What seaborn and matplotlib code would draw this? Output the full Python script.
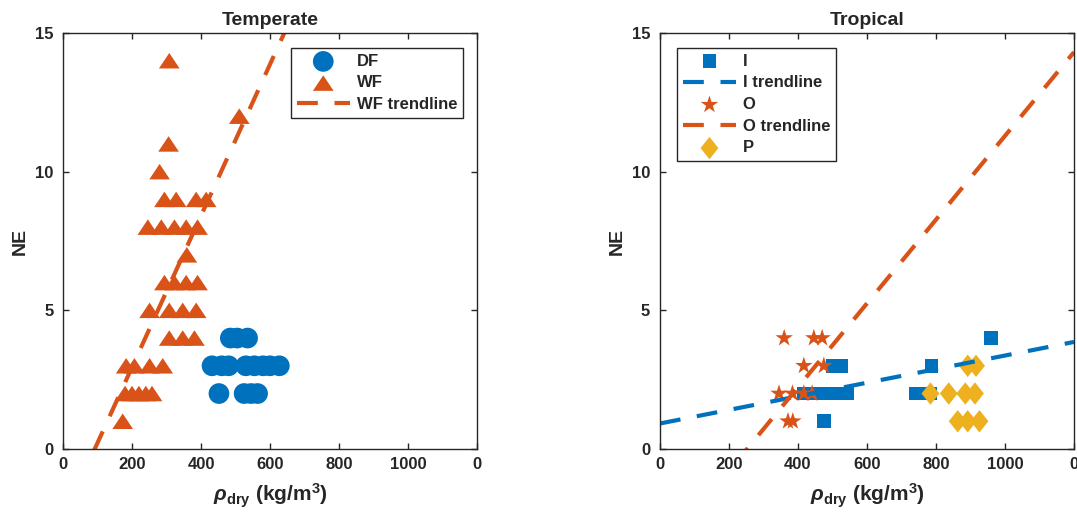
import numpy as np
import pandas as pd
import matplotlib
matplotlib.use("Agg")
import matplotlib.pyplot as plt
import seaborn as sns

# Temperate
df_x = [485, 505, 535, 432, 460, 480, 530, 555, 580, 600, 627, 452, 525, 545, 564]
df_y = [4, 4, 4, 3, 3, 3, 3, 3, 3, 3, 3, 2, 2, 2, 2]
wf_x = [308, 511, 306, 280, 294, 328, 386, 415, 246, 285, 323, 357, 390, 359,
        294, 323, 357, 390, 251, 308, 347, 386, 308, 347, 381,
        183, 207, 251, 289, 180, 200, 220, 240, 258, 173]
wf_y = [14, 12, 11, 10, 9, 9, 9, 9, 8, 8, 8, 8, 8, 7,
        6, 6, 6, 6, 5, 5, 5, 5, 4, 4, 4,
        3, 3, 3, 3, 2, 2, 2, 2, 2, 1]
wf_trend = (0.0273, -2.51)   # slope, intercept

# Tropical
i_x = [959, 500, 525, 787, 417, 440, 460, 480, 500, 520, 541, 742, 762, 782, 475]
i_y = [4, 3, 3, 3, 2, 2, 2, 2, 2, 2, 2, 2, 2, 2, 1]
i_trend = (0.00245, 0.92)
o_x = [360, 446, 470, 417, 475, 345, 384, 417, 441, 371, 385]
o_y = [4, 4, 4, 3, 3, 2, 2, 2, 2, 1, 1]
o_trend = (0.0151, -3.81)
p_x = [892, 916, 784, 837, 885, 913, 863, 892, 926]
p_y = [3, 3, 2, 2, 2, 2, 1, 1, 1]

x_ticks = [0, 200, 400, 600, 800, 1000, 1200]
x_labels = ['0', '200', '400', '600', '800', '1000', '0']
y_ticks = [0, 5, 10, 15]

blue = '#0072BD'
orange = '#D95319'
yellow = '#EDB120'

sns.set_style("ticks")
plt.rcParams['font.family'] = ['Liberation Sans', 'DejaVu Sans']
plt.rcParams['font.weight'] = 'bold'
plt.rcParams['mathtext.fontset'] = 'custom'
plt.rcParams['mathtext.rm'] = 'Liberation Sans:bold'
plt.rcParams['mathtext.bf'] = 'Liberation Sans:bold'
plt.rcParams['mathtext.it'] = 'Liberation Sans:italic'

tri = [(0, 0.75), (-1, -0.75), (1, -0.75)]
diamond = [(0, 1), (0.8, 0), (0, -1), (-0.8, 0)]
dash = (0, (5, 4))
x_line = np.array([0, 1200])

fig = plt.figure(figsize=(10.77, 5.21), dpi=100)
ax1 = fig.add_axes([0.0585, 0.1382, 0.3844, 0.7985])
ax2 = fig.add_axes([0.6128, 0.1382, 0.3844, 0.7985])

sns.scatterplot(x=df_x, y=df_y, ax=ax1, marker='o', s=222, color=blue,
                edgecolor='none', label='DF')
sns.scatterplot(x=wf_x, y=wf_y, ax=ax1, marker=tri, s=222, color=orange,
                edgecolor='none', label='WF')
sns.lineplot(x=x_line, y=wf_trend[0] * x_line + wf_trend[1], ax=ax1,
             color=orange, lw=3, linestyle=dash, label='WF trendline')

sns.scatterplot(x=i_x, y=i_y, ax=ax2, marker='s', s=100, color=blue,
                edgecolor='none', label='I')
sns.lineplot(x=x_line, y=i_trend[0] * x_line + i_trend[1], ax=ax2,
             color=blue, lw=3, linestyle=dash, label='I trendline')
sns.scatterplot(x=o_x, y=o_y, ax=ax2, marker='*', s=175, color=orange,
                edgecolor='none', label='O')
sns.lineplot(x=x_line, y=o_trend[0] * x_line + o_trend[1], ax=ax2,
             color=orange, lw=3, linestyle=dash, label='O trendline')
sns.scatterplot(x=p_x, y=p_y, ax=ax2, marker=diamond, s=260, color=yellow,
                edgecolor='none', label='P')

for ax, title in [(ax1, 'Temperate'), (ax2, 'Tropical')]:
    ax.set_xlim(0, 1200)
    ax.set_ylim(0, 15)
    ax.set_xticks(x_ticks)
    ax.set_xticklabels(x_labels)
    ax.set_yticks(y_ticks)
    ax.tick_params(direction='in', length=4, width=1, top=True, right=True,
                   labelsize=12, color='#262626', labelcolor='#262626')
    ax.tick_params(axis='y', pad=7)
    ax.tick_params(axis='x', pad=6)
    for sp in ax.spines.values():
        sp.set_visible(True)
        sp.set_color('#262626')
        sp.set_linewidth(1)
    ax.set_title(title, fontsize=14, fontweight='bold', pad=6)
    ax.set_ylabel('NE', fontsize=14, fontweight='bold', labelpad=4)
    ax.set_xlabel(r'$\rho_{\mathbf{dry}}$ (kg/m$^{\mathbf{3}}$)', fontsize=15,
                  fontweight='bold', labelpad=7)

leg_kw = dict(fontsize=12, frameon=True, fancybox=False, framealpha=1,
              edgecolor='#262626', borderaxespad=0, labelspacing=0.4,
              borderpad=0.35, handlelength=3.2, handletextpad=0.4,
              scatterpoints=1)
leg1 = ax1.legend(loc='upper right', bbox_to_anchor=(0.966, 0.964), **leg_kw)
leg2 = ax2.legend(loc='upper left', bbox_to_anchor=(0.041, 0.964), **leg_kw)
for leg in (leg1, leg2):
    leg.get_frame().set_linewidth(1)

fig.savefig('out.png', dpi=100)
